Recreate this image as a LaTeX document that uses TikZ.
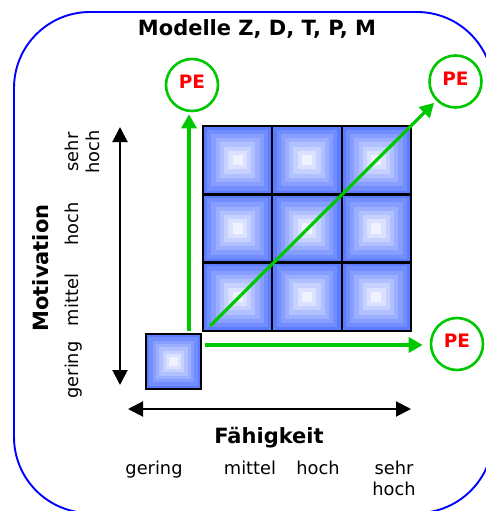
\documentclass[tikz,border=0pt]{standalone}
\usepackage{fontspec}
\setmainfont{DejaVu Sans}
\usetikzlibrary{arrows.meta}
\definecolor{cellblue}{RGB}{92,124,255}
\definecolor{pegreen}{RGB}{0,200,0}
\definecolor{pered}{RGB}{255,0,0}
\definecolor{framebl}{RGB}{0,0,255}
\tikzset{
  cellbox/.style={minimum width=#1, minimum height=#1,
    inner sep=0pt, outer sep=0pt,
    path picture={
      \foreach \i in {0,...,7}{
        \pgfmathsetmacro\s{#1*(1-\i*0.122)/2}
        \pgfmathtruncatemacro\p{\i*13}
        \fill[white!\p!cellblue] ([shift={(-\s pt,-\s pt)}]path picture bounding box.center)
          rectangle ([shift={(\s pt,\s pt)}]path picture bounding box.center);
      }}},
  cellborder/.style={draw=black, line width=2pt},
  pecircle/.style={circle, draw=pegreen, line width=2.6pt, minimum size=52pt, inner sep=0pt,
    text=pered, font=\fontsize{18.5}{20}\selectfont\bfseries, text height=13.4pt, text depth=5.5pt},
  greenarrow/.style={draw=pegreen, line width=3.2pt, -{Triangle[length=14pt,width=15pt]}},
  axisarrow/.style={draw=black, line width=2pt, {Triangle[length=15pt,width=15pt]}-{Triangle[length=15pt,width=15pt]}},
  lbl/.style={font=\fontsize{17.8}{21}\selectfont, inner sep=0pt},
  boldlbl/.style={font=\fontsize{21}{24}\selectfont\bfseries, inner sep=0pt},
}
\begin{document}
\begin{tikzpicture}[x=1pt,y=-1pt]
\useasboundingbox (0,0) rectangle (486,511);
\begin{scope}
  \clip (0,0) rectangle (486,511);
  \draw[framebl, line width=1.9pt, rounded corners=76pt] (14,12) rectangle (493,513);
\end{scope}

\node[boldlbl, anchor=base] (title) at (257,36) {Modelle Z, D, T, P, M};

% cells
\node[cellbox=55pt] (c0) at (173.5,361.5) {};
\draw[cellborder] (c0.south west) rectangle (c0.north east);
\foreach \r in {1,2,3}{
  \foreach \c in {1,2,3}{
    \node[cellbox=69.3pt] (c\r\c) at ({203+69.33*(\c-0.5)},{126+68.33*(\r-0.5)}) {};
  }
}
\foreach \r in {1,2,3}{
  \foreach \c in {1,2,3}{
    \draw[cellborder] (c\r\c.south west) rectangle (c\r\c.north east);
  }
}

% PE circles
\node[pecircle] (pe1) at (192,85) {PE};
\node[pecircle] (pe2) at (455.5,81.5) {PE};
\node[pecircle] (pe3) at (457,344) {PE};

% green arrows
\coordinate (v0) at (189,331);
\coordinate (h0) at (205,345);
\coordinate (d0) at (210,326);
\draw[greenarrow, shorten >=2pt] (v0) -- (v0 |- pe1.south);
\draw[greenarrow, shorten >=7pt] (h0) -- (h0 -| pe3.west);
\draw[greenarrow, shorten >=3pt] (d0) -- (pe2);

% axes
\coordinate (ybot) at (120,385);
\coordinate (ytop) at (120,127);
\coordinate (xl) at (128,409);
\coordinate (xr) at (411,409);
\draw[axisarrow] (ybot) -- (ytop);
\draw[axisarrow] (xl) -- (xr);

% axis titles
\node[boldlbl, anchor=base] (fx) at (269,443) {Fähigkeit};
\node[boldlbl, anchor=base, rotate=90] (my) at (48,268) {Motivation};

% x labels
\node[lbl, anchor=base] (xg) at (154,474) {gering};
\node[lbl, anchor=base] (xm) at (250,474) {mittel};
\node[lbl, anchor=base] (xh) at (318,474) {hoch};
\node[lbl, align=center] (xs) at (394,478) {sehr\\hoch};

% y labels
\node[lbl, anchor=base, rotate=90] (yg) at (78,370) {gering};
\node[lbl, anchor=base, rotate=90] (ym) at (78,300) {mittel};
\node[lbl, anchor=base, rotate=90] (yh) at (78,224) {hoch};
\node[lbl, align=center, rotate=90] (ys) at (82.4,152) {sehr\\hoch};
\end{tikzpicture}
\end{document}
